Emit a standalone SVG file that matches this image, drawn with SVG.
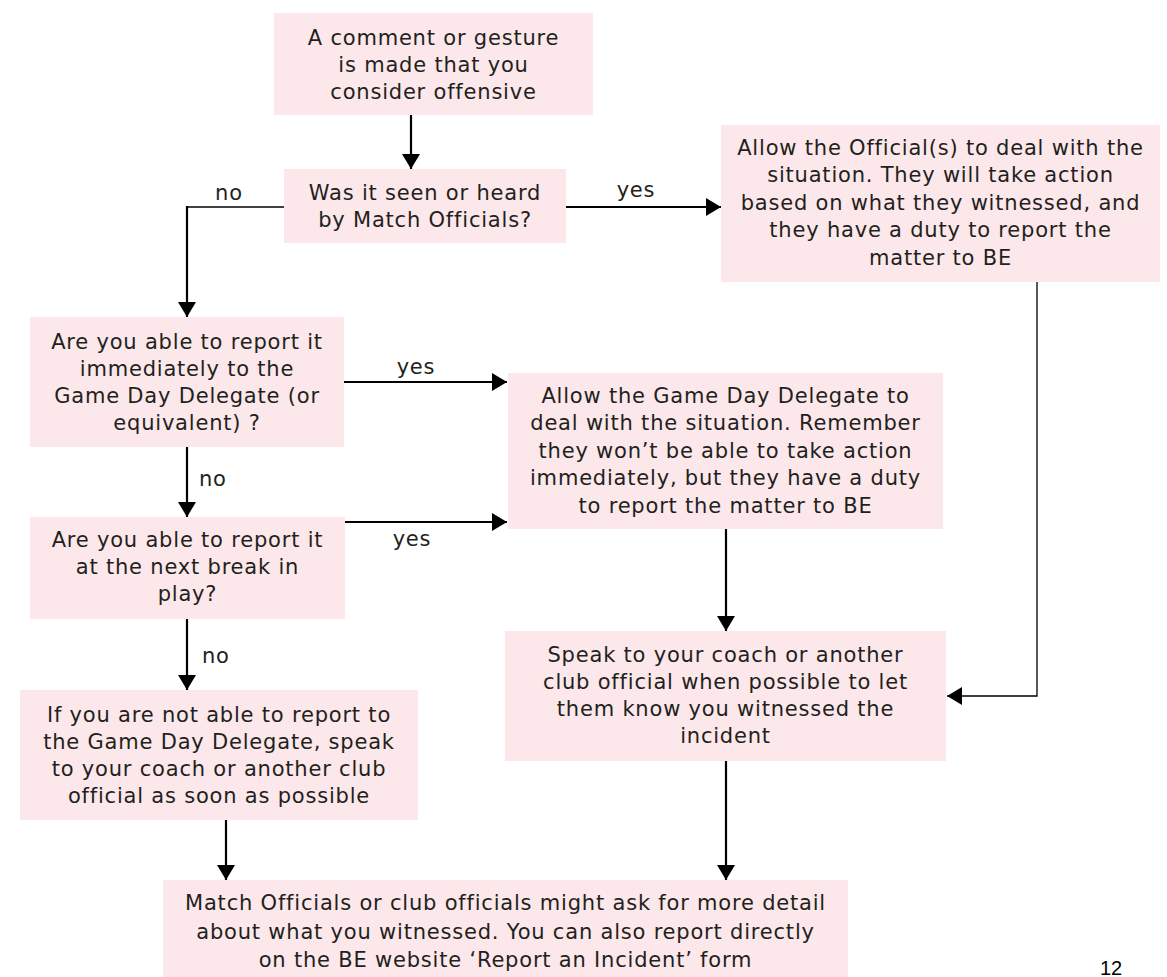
<svg xmlns="http://www.w3.org/2000/svg" width="1167" height="977" viewBox="0 0 1167 977">
<style>
.box{fill:#fce8ea}
.t{font-family:"DejaVu Sans","Liberation Sans",sans-serif;font-size:21px;letter-spacing:0.8px;fill:#231f20;text-anchor:middle}
.l{font-family:"DejaVu Sans","Liberation Sans",sans-serif;font-size:21px;letter-spacing:0.8px;fill:#231f20}
.c{fill:none;stroke:#000;stroke-width:2.2}
.thin{fill:none;stroke:#000;stroke-width:1.3}
</style>
<defs>
<marker id="ah" markerUnits="userSpaceOnUse" markerWidth="16" markerHeight="18" refX="15" refY="9" orient="auto">
<path d="M0,0 L15,9 L0,18 z" fill="#000"/>
</marker>
</defs>
<rect width="1167" height="977" fill="#fff"/>
<g id="connectors">
<path class="c" d="M411,115 V169" marker-end="url(#ah)"/>
<path class="thin" d="M284,207 H187"/>
<path class="c" d="M187,206 V317" marker-end="url(#ah)"/>
<path class="c" d="M566,207 H721" marker-end="url(#ah)"/>
<path class="c" d="M344,382 H507" marker-end="url(#ah)"/>
<path class="c" d="M187,447 V517" marker-end="url(#ah)"/>
<path class="c" d="M345,522 H507" marker-end="url(#ah)"/>
<path class="c" d="M187,619 V690" marker-end="url(#ah)"/>
<path class="c" d="M726,529 V631" marker-end="url(#ah)"/>
<path class="thin" d="M1037,282 V696 H947" marker-end="url(#ah)"/>
<path class="c" d="M226,820 V880" marker-end="url(#ah)"/>
<path class="c" d="M726,761 V880" marker-end="url(#ah)"/>
<text class="t" x="229" y="200">no</text>
<text class="t" x="636" y="197">yes</text>
<text class="t" x="416" y="374">yes</text>
<text class="l" x="199" y="486">no</text>
<text class="t" x="412" y="546">yes</text>
<text class="l" x="202" y="663">no</text>
</g>
<g id="n1">
<rect class="box" x="274" y="13" width="319" height="102"/>
<text class="t" x="433.5" y="45">A comment or gesture</text>
<text class="t" x="433.5" y="72">is made that you</text>
<text class="t" x="433.5" y="99">consider offensive</text>
</g>
<g id="n2">
<rect class="box" x="284" y="169" width="282" height="74"/>
<text class="t" x="425" y="200">Was it seen or heard</text>
<text class="t" x="425" y="227">by Match Officials?</text>
</g>
<g id="n3">
<rect class="box" x="721" y="125" width="439" height="157"/>
<text class="t" x="940.5" y="155">Allow the Official(s) to deal with the</text>
<text class="t" x="940.5" y="182">situation. They will take action</text>
<text class="t" x="940.5" y="210">based on what they witnessed, and</text>
<text class="t" x="940.5" y="237">they have a duty to report the</text>
<text class="t" x="940.5" y="265">matter to BE</text>
</g>
<g id="n4">
<rect class="box" x="30" y="317" width="314" height="130"/>
<text class="t" x="187" y="349">Are you able to report it</text>
<text class="t" x="187" y="376">immediately to the</text>
<text class="t" x="187" y="403">Game Day Delegate (or</text>
<text class="t" x="187" y="430">equivalent) ?</text>
</g>
<g id="n5">
<rect class="box" x="30" y="517" width="315" height="102"/>
<text class="t" x="187.5" y="547">Are you able to report it</text>
<text class="t" x="187.5" y="574">at the next break in</text>
<text class="t" x="187.5" y="601">play?</text>
</g>
<g id="n6">
<rect class="box" x="508" y="373" width="435" height="156"/>
<text class="t" x="725.5" y="403">Allow the Game Day Delegate to</text>
<text class="t" x="725.5" y="430">deal with the situation. Remember</text>
<text class="t" x="725.5" y="458">they won’t be able to take action</text>
<text class="t" x="725.5" y="485">immediately, but they have a duty</text>
<text class="t" x="725.5" y="513">to report the matter to BE</text>
</g>
<g id="n7">
<rect class="box" x="505" y="631" width="441" height="130"/>
<text class="t" x="725.5" y="662">Speak to your coach or another</text>
<text class="t" x="725.5" y="689">club official when possible to let</text>
<text class="t" x="725.5" y="716">them know you witnessed the</text>
<text class="t" x="725.5" y="743">incident</text>
</g>
<g id="n8">
<rect class="box" x="20" y="690" width="398" height="130"/>
<text class="t" x="219" y="722">If you are not able to report to</text>
<text class="t" x="219" y="749">the Game Day Delegate, speak</text>
<text class="t" x="219" y="776">to your coach or another club</text>
<text class="t" x="219" y="803">official as soon as possible</text>
</g>
<g id="n9">
<rect class="box" x="163" y="880" width="685" height="97"/>
<text class="t" x="505.5" y="910">Match Officials or club officials might ask for more detail</text>
<text class="t" x="505.5" y="939">about what you witnessed. You can also report directly</text>
<text class="t" x="505.5" y="967">on the BE website ‘Report an Incident’ form</text>
</g>
<text x="1111" y="975" font-family="Liberation Sans, Arial, sans-serif" font-size="20" fill="#000" text-anchor="middle">12</text>
</svg>
